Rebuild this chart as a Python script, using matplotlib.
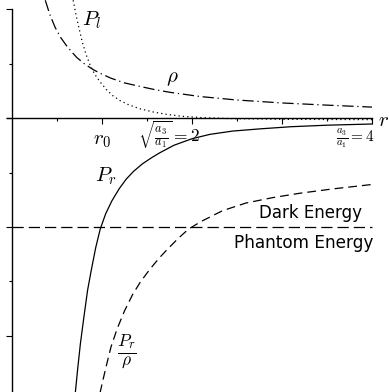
import matplotlib
matplotlib.use("Agg")
import matplotlib.pyplot as plt

plt.rcParams["mathtext.fontset"] = "cm"

# energy density rho(r)
rho_r = [0.37, 0.42, 0.48, 0.54, 0.60, 0.66, 0.72, 0.80, 0.90, 0.98, 1.10, 1.25, 1.42, 1.60,
         1.76, 2.09, 2.50, 3.00, 3.50, 4.00]
rho_v = [1.08, 0.95, 0.83, 0.74, 0.67, 0.61, 0.555, 0.50, 0.445, 0.41, 0.365, 0.322, 0.29,
         0.258, 0.235, 0.197, 0.165, 0.138, 0.118, 0.10]

# tangential pressure P_l(r)
pl_r = [0.68, 0.71, 0.74, 0.78, 0.82, 0.87, 0.92, 0.98, 1.05, 1.12, 1.20, 1.30, 1.42, 1.57,
        1.72, 1.90, 2.10, 2.40, 3.00, 4.00]
pl_v = [1.08, 0.95, 0.84, 0.70, 0.59, 0.48, 0.40, 0.33, 0.26, 0.205, 0.16, 0.12, 0.085,
        0.055, 0.033, 0.015, 0.004, -0.005, -0.012, -0.015]

# radial pressure P_r(r)
pr_r = [0.70, 0.73, 0.76, 0.80, 0.84, 0.88, 0.93, 0.98, 1.04, 1.11, 1.19, 1.27, 1.35, 1.45,
        1.55, 1.64, 1.80, 2.00, 2.20, 2.45, 2.75, 3.10, 3.50, 4.00]
pr_v = [-2.55, -2.30, -2.07, -1.82, -1.58, -1.40, -1.19, -1.02, -0.88, -0.76, -0.65, -0.56,
        -0.49, -0.42, -0.365, -0.32, -0.25, -0.19, -0.15, -0.12, -0.10, -0.08, -0.066, -0.055]

# equation of state P_r / rho
w_r = [0.97, 1.04, 1.10, 1.17, 1.25, 1.34, 1.43, 1.53, 1.63, 1.72, 1.84, 1.96, 2.10, 2.34,
       2.60, 2.90, 3.20, 3.57, 4.00]
w_v = [-2.55, -2.30, -2.10, -1.93, -1.77, -1.62, -1.50, -1.39, -1.29, -1.21, -1.11, -1.02,
       -0.95, -0.85, -0.78, -0.73, -0.69, -0.65, -0.61]

# phantom divide w = -1
divide_r = [0.0, 4.0]
divide_v = [-1.0, -1.0]

fig = plt.figure(figsize=(3.89, 3.92), dpi=100)
ax = fig.add_axes([0, 0, 1, 1])
ax.set_xlim(-0.1333, 4.189)
ax.set_ylim(-2.5138, 1.0826)

lw = 0.9
ax.plot(rho_r, rho_v, color="black", lw=lw, dashes=(9, 3, 1, 3))
ax.plot(pl_r, pl_v, color="black", lw=lw, dashes=(1, 2.5))
ax.plot(pr_r, pr_v, color="black", lw=lw)
ax.plot(w_r, w_v, color="black", lw=lw, dashes=(7, 4))
ax.plot(divide_r, divide_v, color="black", lw=lw, dashes=(9, 4))

# axes through the origin
for side in ["top", "right"]:
    ax.spines[side].set_visible(False)
ax.spines["left"].set_position(("data", 0))
ax.spines["bottom"].set_position(("data", 0))
ax.spines["left"].set_bounds(-2.6, 1.0)
ax.spines["bottom"].set_bounds(-0.06, 4.0)
ax.spines["left"].set_linewidth(1.0)
ax.spines["bottom"].set_linewidth(1.0)

ax.set_yticks([1, 0, -1, -2])
ax.set_yticks([0.5, -0.5, -1.5], minor=True)
ax.set_xticks([1, 2, 3, 4])
ax.set_xticks([0.5, 1.5, 2.5, 3.5], minor=True)
ax.tick_params(which="major", direction="out", length=4, width=0.8,
               labelleft=False, labelbottom=False)
ax.tick_params(which="minor", direction="out", length=2, width=0.8)

ax.patch.set_visible(False)

fs = 15
ax.text(0.78, 0.90, r"$P_l$", fontsize=fs, ha="left", va="center")
ax.text(1.78, 0.37, r"$\rho$", fontsize=fs, ha="center", va="center")
ax.text(1.0, -0.20, r"$r_0$", fontsize=fs, ha="center", va="center")
ax.text(2.09, -0.16, r"$\sqrt{\frac{a_3}{a_1}}=2$", fontsize=12.5, ha="right", va="center")
ax.text(4.03, -0.19, r"$\frac{a_3}{a_1}=4$", fontsize=11, ha="right", va="center")
ax.text(4.07, -0.02, r"$r$", fontsize=fs, ha="left", va="center")
ax.text(1.04, -0.53, r"$P_r$", fontsize=fs, ha="center", va="center")
ax.text(1.28, -2.15, r"$\frac{P_r}{\rho}$", fontsize=18, ha="center", va="center")
ax.text(3.89, -0.87, "Dark Energy", fontsize=12, ha="right", va="center")
ax.text(4.01, -1.15, "Phantom Energy", fontsize=12.2, ha="right", va="center")

fig.savefig("out.png", dpi=100)
